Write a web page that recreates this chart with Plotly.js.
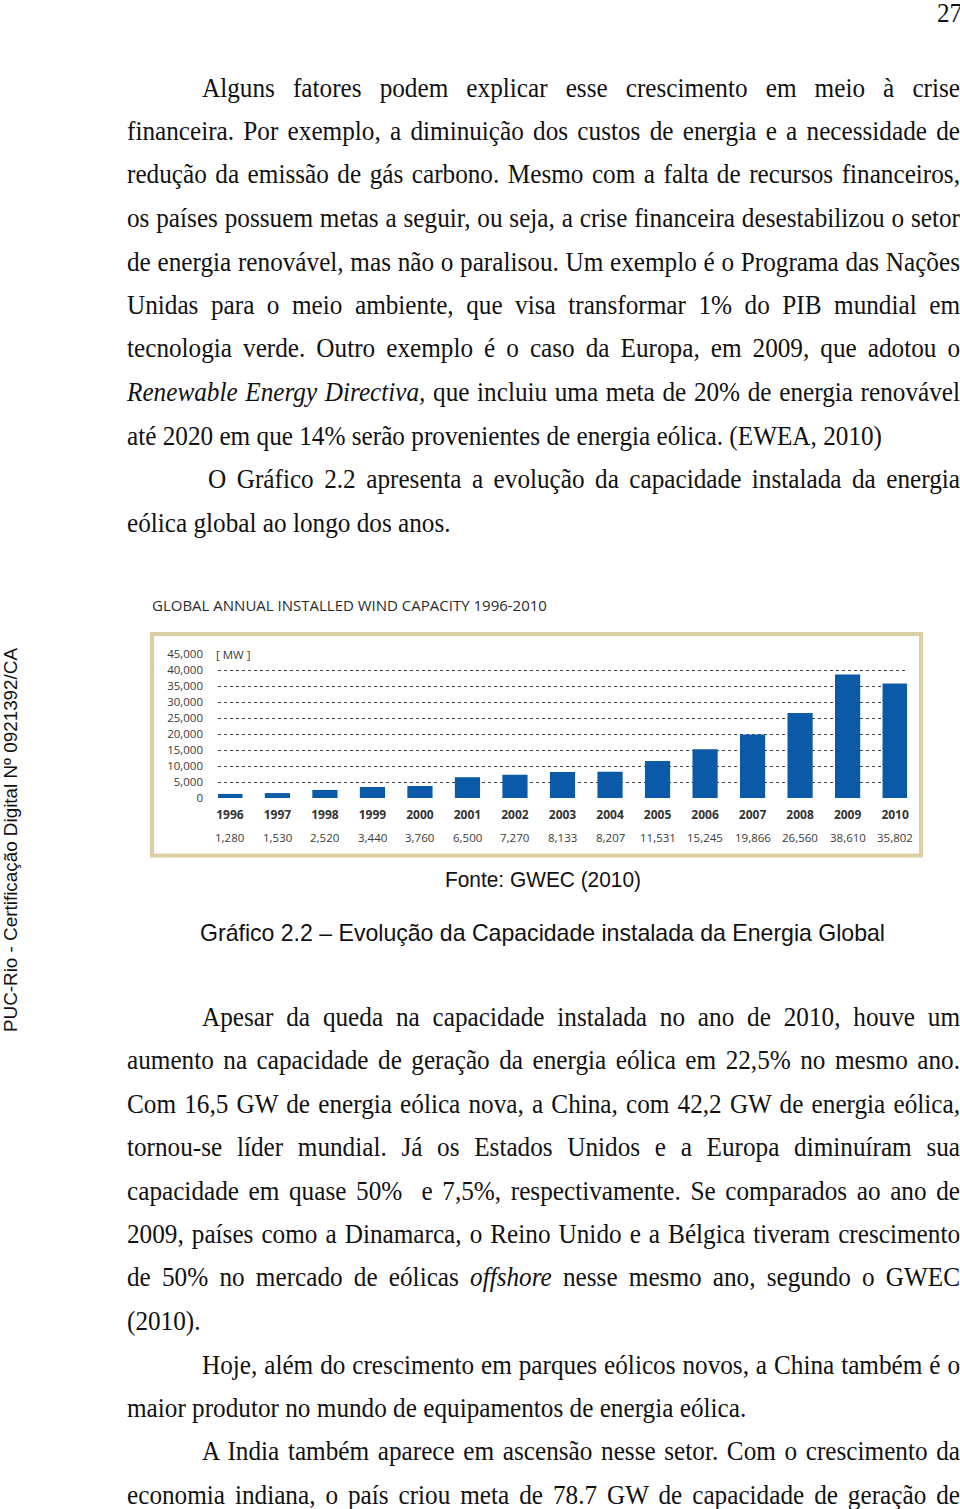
<!DOCTYPE html>
<html>
<head>
<meta charset="utf-8">
<script src="https://cdn.plot.ly/plotly-3.0.1.min.js"></script>
<style>
  html, body { margin:0; padding:0; background:#fff; }
  body { width:960px; height:1509px; position:relative; overflow:hidden; }
  .ln { position:absolute; white-space:nowrap; font-family:"Liberation Serif","Times New Roman",Tinos,serif; color:#111; transform-origin:0 50%; }
  .just { text-align:justify; text-align-last:justify; white-space:normal; }
  .cap { position:absolute; font-family:"Liberation Sans", Arial, sans-serif; color:#111; white-space:nowrap; transform-origin:0 50%; }
  #side { position:absolute; font-family:"Liberation Sans", Arial, sans-serif; color:#111; white-space:nowrap; transform-origin:0 0; }
  #chart { position:absolute; left:140px; top:590px; width:800px; height:280px; }
</style>
</head>
<body>
<div class="ln" id="pgnum">27</div>
<div id="side">PUC-Rio - Certificação Digital Nº 0921392/CA</div>
<div id="chart"></div>
<div class="cap" id="fonte">Fonte: GWEC (2010)</div>
<div class="cap" id="grafico">Gráfico 2.2 – Evolução da Capacidade instalada da Energia Global</div>
<div id="text"></div>
<script>
// ---- chart data ----
const years = ['1996','1997','1998','1999','2000','2001','2002','2003','2004','2005','2006','2007','2008','2009','2010'];
const capacityMW = [1280, 1530, 2520, 3440, 3760, 6500, 7270, 8133, 8207, 11531, 15245, 19866, 26560, 38610, 35802];
const valueLabels = ['1,280','1,530','2,520','3,440','3,760','6,500','7,270','8,133','8,207','11,531','15,245','19,866','26,560','38,610','35,802'];
const yTicks = [0, 5000, 10000, 15000, 20000, 25000, 30000, 35000, 40000, 45000];
const yTickLabels = ['0','5,000','10,000','15,000','20,000','25,000','30,000','35,000','40,000','45,000'];
const chartTitle = 'GLOBAL ANNUAL INSTALLED WIND CAPACITY 1996-2010';
const unitLabel = '[ MW ]';

// ---- chart geometry (pixels inside the 800x280 chart div) ----
const W = 800, H = 280;
const plotL = 78, plotR = 767, plotT = 64, plotB = 207.6;
const pw = plotR - plotL, ph = plotB - plotT;
const px2x = p => (p - plotL) / pw;
const py2y = p => (plotB - p) / ph;

const chartFont = '"Open Sans", "Noto Sans", sans-serif';
const annotations = valueLabels.map((t, i) => ({
  x: i, xref: 'x', y: py2y(247), yref: 'paper',
  text: t, showarrow: false, xanchor: 'center', yanchor: 'middle',
  font: {family: chartFont, size: 11.5, color: '#3a3a3a'}
}));
annotations.push({
  x: px2x(72), xref: 'paper', y: 1, yref: 'paper', text: unitLabel,
  showarrow: false, xanchor: 'left', yanchor: 'middle', bgcolor: '#ffffff', borderpad: 3,
  font: {family: chartFont, size: 11.5, color: '#3a3a3a'}
});

const layout = {
  width: W, height: H,
  margin: {l: plotL, r: W - plotR, t: plotT, b: H - plotB, pad: 0},
  paper_bgcolor: '#ffffff', plot_bgcolor: '#ffffff',
  showlegend: false,
  bargap: 0.47,
  title: {text: chartTitle, x: 12 / W, xref: 'container', xanchor: 'left', y: 1 - 16 / H, yref: 'container', yanchor: 'middle',
          font: {family: chartFont, size: 15, color: '#2a2a2a'}},
  xaxis: {type: 'category', range: [-0.25, 14.25], showgrid: false, zeroline: false, showline: false, ticks: '',
          tickvals: years, ticktext: years.map(y => '<b>' + y + '</b>'), ticklabelstandoff: 8,
          tickfont: {family: chartFont, size: 12, color: '#333333'}, fixedrange: true},
  yaxis: {range: [0, 45000], tickvals: yTicks, ticktext: yTickLabels, showgrid: true, gridcolor: '#444444', gridwidth: 1,
          griddash: 'dot', zeroline: true, zerolinecolor: 'rgba(0,0,0,0)', showline: false, ticks: '', ticklabelstandoff: 14,
          tickfont: {family: chartFont, size: 11.5, color: '#3a3a3a'}, fixedrange: true},
  shapes: [{type: 'rect', xref: 'paper', yref: 'paper', layer: 'below',
            x0: px2x(12), x1: px2x(781), y0: py2y(265), y1: py2y(44),
            line: {color: '#dbd0a4', width: 4}, fillcolor: 'rgba(0,0,0,0)'}],
  annotations: annotations
};

Plotly.newPlot('chart', [{
  type: 'bar', x: years, y: capacityMW, marker: {color: '#0b5aa8', line: {width: 0}},
  hoverinfo: 'skip'
}], layout, {staticPlot: true, displayModeBar: false});

// ---- page text ----
const LINES = [
  // [centerY, left, justified, html]
  [88, 202, true, 'Alguns fatores podem explicar esse crescimento em meio à crise'],
  [131, 127, true, 'financeira. Por exemplo, a diminuição dos custos de energia e a necessidade de'],
  [174, 127, true, 'redução da emissão de gás carbono. Mesmo com a falta de recursos financeiros,'],
  [218, 127, true, 'os países possuem metas a seguir, ou seja, a crise financeira desestabilizou o setor'],
  [262, 127, true, 'de energia renovável, mas não o paralisou. Um exemplo é o Programa das Nações'],
  [305, 127, true, 'Unidas para o meio ambiente, que visa transformar 1% do PIB mundial em'],
  [348, 127, true, 'tecnologia verde. Outro exemplo é o caso da Europa, em 2009, que adotou o'],
  [392, 127, true, '<i>Renewable Energy Directiva,</i> que incluiu uma meta de 20% de energia renovável'],
  [436, 127, false, 'até 2020 em que 14% serão provenientes de energia eólica. (EWEA, 2010)'],
  [479, 208, true, 'O Gráfico 2.2 apresenta a evolução da capacidade instalada da energia'],
  [523, 127, false, 'eólica global ao longo dos anos.'],
  [1017, 202, true, 'Apesar da queda na capacidade instalada no ano de 2010, houve um'],
  [1060, 127, true, 'aumento na capacidade de geração da energia eólica em 22,5% no mesmo ano.'],
  [1104, 127, true, 'Com 16,5 GW de energia eólica nova, a China, com 42,2 GW de energia eólica,'],
  [1147, 127, true, 'tornou-se líder mundial. Já os Estados Unidos e a Europa diminuíram sua'],
  [1191, 127, true, 'capacidade em quase 50% &nbsp;e 7,5%, respectivamente. Se comparados ao ano de'],
  [1234, 127, true, '2009, países como a Dinamarca, o Reino Unido e a Bélgica tiveram crescimento'],
  [1277, 127, true, 'de 50% no mercado de eólicas <i>offshore</i> nesse mesmo ano, segundo o GWEC'],
  [1321, 127, false, '(2010).'],
  [1365, 202, true, 'Hoje, além do crescimento em parques eólicos novos, a China também é o'],
  [1408, 127, false, 'maior produtor no mundo de equipamentos de energia eólica.'],
  [1451, 202, true, 'A India também aparece em ascensão nesse setor. Com o crescimento da'],
  [1495, 127, true, 'economia indiana, o país criou meta de 78.7 GW de capacidade de geração de']
];
const FS = 28, LH = 34, RIGHT = 960;
function natWidth(cls, fs, html) {
  const s = document.createElement('span');
  s.className = cls; s.style.fontSize = fs + 'px'; s.style.position = 'absolute'; s.style.left = '0'; s.style.top = '0';
  s.innerHTML = html;
  document.body.appendChild(s);
  const w = s.getBoundingClientRect().width;
  s.remove();
  return w;
}
// calibrate horizontal condensation from a non-justified line of known width (755px)
const c = 755 / natWidth('ln', FS, LINES[8][3]);
const holder = document.getElementById('text');
LINES.forEach(([cy, left, just, html]) => {
  const d = document.createElement('div');
  d.className = 'ln' + (just ? ' just' : '');
  d.style.fontSize = FS + 'px';
  d.style.lineHeight = LH + 'px';
  d.style.left = left + 'px';
  d.style.top = (cy - LH / 2) + 'px';
  if (just) d.style.width = ((RIGHT - left) / c) + 'px';
  d.style.transform = 'scaleX(' + c + ')';
  d.innerHTML = html;
  holder.appendChild(d);
});
const pg = document.getElementById('pgnum');
pg.style.fontSize = FS + 'px'; pg.style.lineHeight = LH + 'px'; pg.style.left = '937px'; pg.style.top = (13 - LH / 2) + 'px';
pg.style.transform = 'scaleX(' + c + ')';

// captions, fitted to measured widths
function placeCap(id, fs, left, cy, targetW) {
  const el = document.getElementById(id);
  el.style.fontSize = fs + 'px'; el.style.lineHeight = (fs + 4) + 'px';
  el.style.left = left + 'px'; el.style.top = (cy - (fs + 4) / 2) + 'px';
  const k = targetW / el.getBoundingClientRect().width;
  el.style.transform = 'scaleX(' + k + ')';
}
placeCap('fonte', 22, 445, 880, 196);
placeCap('grafico', 24, 200, 933, 685);
const side = document.getElementById('side');
side.style.fontSize = '19px'; side.style.lineHeight = '22px';
const sw = side.getBoundingClientRect().width;
const ks = 384 / sw;
side.style.left = '0px'; side.style.top = '1032px';
side.style.transform = 'rotate(-90deg) scaleX(' + ks + ')';
</script>
</body>
</html>
